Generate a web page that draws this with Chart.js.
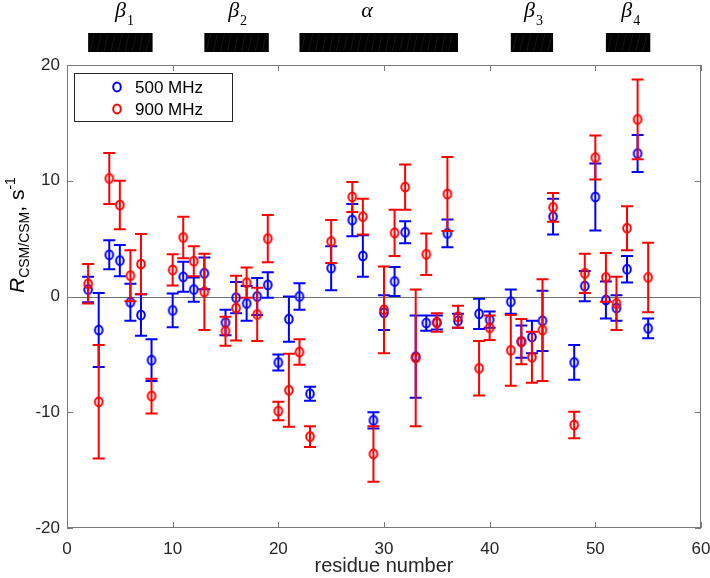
<!DOCTYPE html>
<html>
<head>
<meta charset="utf-8">
<script src="https://cdn.jsdelivr.net/npm/chart.js@4.4.1/dist/chart.umd.min.js"></script>
<style>
  html, body { margin: 0; padding: 0; background: #fff; }
  #wrap { width: 710px; height: 578px; }
</style>
</head>
<body>
<div id="wrap"><canvas id="rcsmChart" width="710" height="578"></canvas></div>
<script>
// residue numbers and relaxation rates (s^-1)
const residues = [2, 3, 4, 5, 6, 7, 8, 10, 11, 12, 13, 15, 16, 17, 18, 19, 20, 21, 22, 23, 25, 27, 28, 29, 30,
    31, 32, 33, 34, 35, 36, 37, 39, 40, 42, 43, 44, 45, 46, 48, 49, 50, 51, 52, 53, 54, 55];

const r500 = [0.6, -2.9, 3.6, 3.1, -0.5, -1.6, -5.5, -1.2, 1.7, 0.6, 2.0, -2.25, -0.1, -0.6, 0.0, 1.0, -5.7, -1.95, 0.0, -8.4, 2.45, 6.6, 3.5, -10.7, -1.4,
    1.3, 5.55, -5.2, -2.3, -2.25, 5.45, -2.1, -1.5, -2.0, -0.45, -3.9, -3.5, -2.1, 6.9, -5.7, 0.9, 8.6, -0.3, -1.0, 2.35, 12.35, -2.75];
const err500 = [1.1, 3.2, 1.25, 1.35, 1.6, 1.8, 1.8, 1.45, 1.3, 1.05, 1.37, 1.1, 1.35, 1.5, 1.6, 1.1, 0.7, 1.95, 1.15, 0.6, 1.9, 1.4, 1.8, 0.7, 1.5,
    1.25, 0.95, 3.55, 0.65, 0.6, 1.2, 0.6, 1.3, 0.7, 1.05, 1.4, 1.4, 2.6, 1.55, 1.5, 1.3, 2.9, 1.6, 1.1, 1.15, 1.6, 0.85];

const r900 = [1.1, -9.1, 10.2, 7.9, 1.8, 2.8, -8.6, 2.3, 5.1, 3.05, 0.4, -3.0, -1.0, 1.2, -1.55, 5.0, -9.9, -8.1, -4.8, -12.1, 4.75, 8.6, 6.9, -13.6, -1.15,
    5.5, 9.45, -5.3, 3.65, -2.25, 8.85, -1.75, -6.2, -2.7, -4.65, -3.9, -5.25, -2.9, 7.7, -11.1, 2.0, 12.0, 1.65, -0.6, 5.9, 15.3, 1.65];
const err900 = [1.7, 4.9, 2.2, 2.1, 2.2, 2.6, 1.5, 1.35, 1.8, 1.3, 3.3, 1.25, 2.8, 1.3, 2.3, 2.05, 0.8, 3.15, 1.1, 0.9, 1.85, 1.3, 1.55, 2.4, 3.75,
    2.0, 1.95, 5.9, 1.8, 0.8, 3.2, 0.95, 2.35, 1.05, 3.05, 1.95, 2.2, 4.4, 1.25, 1.15, 1.7, 1.9, 2.1, 2.3, 1.9, 3.45, 3.0];

// secondary structure elements above the plot
const ssNames = ['β', 'β', 'α', 'β', 'β'];
const ssSubs = ['1', '2', '', '3', '4'];
const ssStart = [2, 13, 22, 42, 51];
const ssEnd = [8.1, 19.1, 37, 46, 55.2];
const ssLabelAt = [5.4, 16.1, 28.4, 44.1, 53.3];

const xTicks = [0, 10, 20, 30, 40, 50, 60];
const yTicks = [-20, -10, 0, 10, 20];

const seriesNames = ['500 MHz', '900 MHz'];
const seriesColors = ['#0000ff', '#ff0000'];
const seriesErrors = [err500, err900];

const sansFont = '"Liberation Sans", Arial, sans-serif';
const serifFont = '"Liberation Serif", "Times New Roman", serif';

// slightly tall open circle marker
function makeMarker(color) {
    const c = document.createElement('canvas');
    c.width = 14;
    c.height = 16;
    const g = c.getContext('2d');
    g.strokeStyle = color;
    g.lineWidth = 2;
    g.beginPath();
    g.ellipse(7, 8, 3.8, 4.5, 0, 0, Math.PI * 2);
    g.stroke();
    return c;
}
const markers = seriesColors.map(makeMarker);

const errorBars = {
    id: 'errorBars',
    beforeDatasetDraw(chart, args) {
        const errs = seriesErrors[args.index];
        const color = seriesColors[args.index];
        const xs = chart.scales.x, ys = chart.scales.y;
        const ctx = chart.ctx;
        const data = chart.data.datasets[args.index].data;
        ctx.save();
        ctx.strokeStyle = color;
        ctx.lineWidth = 2;
        ctx.beginPath();
        data.forEach((p, i) => {
            const px = xs.getPixelForValue(p.x);
            const top = ys.getPixelForValue(p.y + errs[i]);
            const bot = ys.getPixelForValue(p.y - errs[i]);
            ctx.moveTo(px, top); ctx.lineTo(px, bot);
            ctx.moveTo(px - 6, top); ctx.lineTo(px + 6, top);
            ctx.moveTo(px - 6, bot); ctx.lineTo(px + 6, bot);
        });
        ctx.stroke();
        ctx.restore();
    }
};

const decorations = {
    id: 'decorations',
    beforeDatasetsDraw(chart) {
        const {ctx, chartArea: a, scales: {y}} = chart;
        const y0 = Math.round(y.getPixelForValue(0)) + 0.5;
        ctx.save();
        ctx.strokeStyle = '#707070';
        ctx.lineWidth = 1;
        ctx.beginPath();
        ctx.moveTo(a.left, y0);
        ctx.lineTo(a.right, y0);
        ctx.stroke();
        ctx.restore();
    },
    afterDraw(chart) {
        const {ctx, chartArea: a, scales: {x, y}} = chart;
        ctx.save();

        // axes box with inward ticks
        ctx.strokeStyle = '#7a7a7a';
        ctx.lineWidth = 1;
        ctx.strokeRect(a.left + 0.5, a.top + 0.5, a.right - a.left - 1, a.bottom - a.top - 1);
        ctx.beginPath();
        xTicks.forEach(v => {
            const px = Math.round(x.getPixelForValue(v)) + 0.5;
            ctx.moveTo(px, a.bottom); ctx.lineTo(px, a.bottom - 6);
            ctx.moveTo(px, a.top); ctx.lineTo(px, a.top + 6);
        });
        yTicks.forEach(v => {
            const py = Math.round(y.getPixelForValue(v)) + 0.5;
            ctx.moveTo(a.left, py); ctx.lineTo(a.left + 6, py);
            ctx.moveTo(a.right, py); ctx.lineTo(a.right - 6, py);
        });
        ctx.stroke();

        // secondary structure bars and labels
        ssStart.forEach((s, i) => {
            const x1 = x.getPixelForValue(s);
            const x2 = x.getPixelForValue(ssEnd[i]);
            ctx.fillStyle = '#000';
            ctx.fillRect(x1, 33, x2 - x1, 19);
            ctx.strokeStyle = '#262626';
            ctx.lineWidth = 0.6;
            ctx.beginPath();
            for (let hx = x1 + 6; hx < x2; hx += 7) {
                ctx.moveTo(hx - 4, 51); ctx.lineTo(hx, 34);
            }
            ctx.stroke();

            ctx.fillStyle = '#000';
            ctx.textBaseline = 'alphabetic';
            ctx.textAlign = 'left';
            ctx.font = 'italic 22px ' + serifFont;
            const w1 = ctx.measureText(ssNames[i]).width;
            ctx.font = '14px ' + serifFont;
            const w2 = ctx.measureText(ssSubs[i]).width;
            const cx = x.getPixelForValue(ssLabelAt[i]);
            const sx = cx - (w1 + w2) / 2;
            ctx.font = 'italic 22px ' + serifFont;
            ctx.fillText(ssNames[i], sx, 17);
            ctx.font = '14px ' + serifFont;
            ctx.fillText(ssSubs[i], sx + w1 + 1, 25);
        });

        // legend
        ctx.fillStyle = '#fff';
        ctx.fillRect(74.5, 73.5, 158, 48);
        ctx.strokeStyle = '#262626';
        ctx.lineWidth = 1;
        ctx.strokeRect(74.5, 73.5, 158, 48);
        ctx.font = '17px ' + sansFont;
        ctx.textBaseline = 'middle';
        ctx.fillStyle = '#000';
        seriesNames.forEach((name, i) => {
            const ly = 87 + i * 22;
            ctx.drawImage(markers[i], 117 - 7, ly - 8);
            ctx.fillText(name, 135, ly + 1);
        });

        // y axis title
        ctx.translate(24, 293);
        ctx.rotate(-Math.PI / 2);
        ctx.textBaseline = 'alphabetic';
        ctx.textAlign = 'left';
        let pos = 0;
        const parts = [
            ['R', 'italic 21px ' + sansFont, 0],
            ['CSM/CSM', '14px ' + sansFont, 5],
            [', s', '21px ' + sansFont, 0],
            ['-1', '14px ' + sansFont, -9]
        ];
        parts.forEach(([t, f, dy]) => {
            ctx.font = f;
            ctx.fillText(t, pos, dy);
            pos += ctx.measureText(t).width;
        });
        ctx.restore();
    }
};

document.addEventListener('DOMContentLoaded', function() {
    Chart.defaults.font.family = sansFont;
    const ctx = document.getElementById('rcsmChart').getContext('2d');
    new Chart(ctx, {
        type: 'scatter',
        data: {
            datasets: [{
                label: seriesNames[0],
                data: residues.map((r, i) => ({x: r, y: r500[i]})),
                pointStyle: markers[0],
                order: 1
            }, {
                label: seriesNames[1],
                data: residues.map((r, i) => ({x: r, y: r900[i]})),
                pointStyle: markers[1],
                order: 0
            }]
        },
        options: {
            responsive: false,
            animation: false,
            events: [],
            layout: {
                padding: {left: 0, top: 65, right: 9, bottom: 0}
            },
            plugins: {
                legend: {display: false},
                tooltip: {enabled: false}
            },
            scales: {
                x: {
                    type: 'linear',
                    min: 0,
                    max: 60,
                    afterBuildTicks: s => { s.ticks = xTicks.map(v => ({value: v})); },
                    afterFit: s => { s.height = 50; s.paddingLeft = 0; s.paddingRight = 0; },
                    grid: {display: false, drawTicks: false},
                    border: {display: false},
                    ticks: {
                        color: '#262626',
                        padding: 11,
                        font: {size: 17}
                    },
                    title: {
                        display: true,
                        text: 'residue number',
                        color: '#262626',
                        font: {size: 20},
                        padding: {top: 0, bottom: 0}
                    }
                },
                y: {
                    type: 'linear',
                    min: -20,
                    max: 20,
                    afterBuildTicks: s => { s.ticks = yTicks.map(v => ({value: v})); },
                    afterFit: s => { s.width = 67; s.paddingTop = 0; s.paddingBottom = 0; },
                    grid: {display: false, drawTicks: false},
                    border: {display: false},
                    ticks: {
                        color: '#262626',
                        padding: 7,
                        font: {size: 17}
                    }
                }
            }
        },
        plugins: [decorations, errorBars]
    });
});
</script>
</body>
</html>
